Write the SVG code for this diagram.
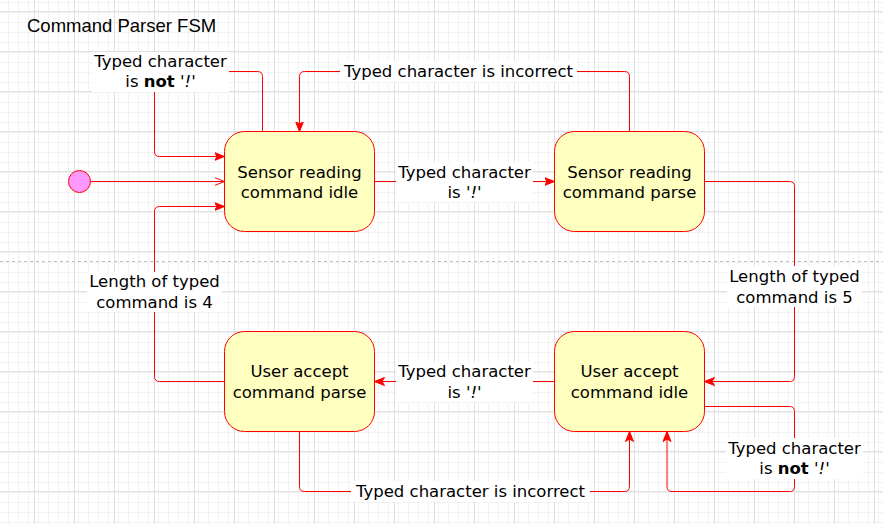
<svg xmlns="http://www.w3.org/2000/svg" width="883" height="524" viewBox="0 0 883 524">
<style>
.node rect{fill:#ffffc0;stroke:#ff0000;stroke-width:1}
.t{font-family:"DejaVu Sans",Verdana,sans-serif;font-size:16.5px;fill:#000;text-anchor:middle}
.e{fill:none;stroke:#ff0000;stroke-width:1}
.bg{fill:#ffffff}
.title{font-family:"Liberation Sans",Arial,sans-serif;font-size:18.5px;fill:#000}
</style>
<defs>
<pattern id="minor" patternUnits="userSpaceOnUse" x="4" y="1" width="10" height="10">
<path d="M0.5,0 V10 M0,0.5 H10" stroke="#f2f2f2" stroke-width="1" fill="none"/>
</pattern>
<pattern id="major" patternUnits="userSpaceOnUse" x="34" y="11" width="40" height="40">
<rect width="40" height="40" fill="url(#minor)"/>
<path d="M0.5,0 V40 M0,0.5 H40" stroke="#e0e0e0" stroke-width="1" fill="none"/>
</pattern>
<marker id="arr" markerUnits="userSpaceOnUse" viewBox="0 0 10 10" refX="10" refY="5" markerWidth="10" markerHeight="10" orient="auto">
<path d="M0,1 L10,5 L0,9 L2.5,5 z" fill="#ff0000" stroke="#ff0000" stroke-width="1"/>
</marker>
<marker id="open" markerUnits="userSpaceOnUse" viewBox="0 0 10 10" refX="10" refY="5" markerWidth="10" markerHeight="10" orient="auto">
<path d="M0,1 L10,5 L0,9" fill="none" stroke="#ff0000" stroke-width="1"/>
</marker>
</defs>
<rect width="883" height="524" fill="#ffffff"/>
<rect width="883" height="524" fill="url(#major)"/>
<line x1="0" y1="261.5" x2="883" y2="261.5" stroke="#c0c0c0" stroke-width="1" stroke-dasharray="3 3"/>
<text class="title" x="27" y="31.5">Command Parser FSM</text>

<g id="connectors">
<path class="e" d="M90.5,181.5 H224.5" marker-end="url(#open)"/>
<path class="e" d="M262.5,131.5 V76.5 Q262.5,71.5 257.5,71.5 H159.5 Q154.5,71.5 154.5,76.5 V151.5 Q154.5,156.5 159.5,156.5 H224.5" marker-end="url(#arr)"/>
<path class="e" d="M629.5,131.5 V76.5 Q629.5,71.5 624.5,71.5 H304.5 Q299.5,71.5 299.5,76.5 V131.5" marker-end="url(#arr)"/>
<path class="e" d="M374.5,181.5 H554.5" marker-end="url(#arr)"/>
<path class="e" d="M704.5,181.5 H789.5 Q794.5,181.5 794.5,186.5 V376.5 Q794.5,381.5 789.5,381.5 H704.5" marker-end="url(#arr)"/>
<path class="e" d="M554.5,381.5 H374.5" marker-end="url(#arr)"/>
<path class="e" d="M704.5,406.5 H789.5 Q794.5,406.5 794.5,411.5 V486.5 Q794.5,491.5 789.5,491.5 H672 Q667,491.5 667,486.5 V431.5" marker-end="url(#arr)"/>
<path class="e" d="M299.5,431.5 V486.5 Q299.5,491.5 304.5,491.5 H624.5 Q629.5,491.5 629.5,486.5 V431.5" marker-end="url(#arr)"/>
<path class="e" d="M224.5,381.5 H159.5 Q154.5,381.5 154.5,376.5 V211.5 Q154.5,206.5 159.5,206.5 H224.5" marker-end="url(#arr)"/>

<g id="label-not1">
<rect class="bg" x="92" y="52" width="137" height="40"/>
<text class="t" x="160.5" y="66.5">Typed character</text>
<text class="t" x="160.5" y="87">is <tspan font-weight="bold">not</tspan> <tspan font-style="italic">'!'</tspan></text>
</g>
<g id="label-incorrect1">
<rect class="bg" x="340" y="61" width="237" height="21"/>
<text class="t" x="458.5" y="77">Typed character is incorrect</text>
</g>
<g id="label-bang1">
<rect class="bg" x="396" y="162" width="137" height="40"/>
<text class="t" x="464.5" y="177.5">Typed character</text>
<text class="t" x="464.5" y="197.5">is <tspan font-style="italic">'!'</tspan></text>
</g>
<g id="label-len5">
<rect class="bg" x="727" y="266" width="135" height="41"/>
<text class="t" x="794.5" y="282">Length of typed</text>
<text class="t" x="794.5" y="302.5">command is 5</text>
</g>
<g id="label-bang2">
<rect class="bg" x="396" y="362" width="137" height="40"/>
<text class="t" x="464.5" y="377">Typed character</text>
<text class="t" x="464.5" y="397.5">is <tspan font-style="italic">'!'</tspan></text>
</g>
<g id="label-not2">
<rect class="bg" x="726" y="438" width="137" height="41"/>
<text class="t" x="794.5" y="453.5">Typed character</text>
<text class="t" x="794.5" y="474">is <tspan font-weight="bold">not</tspan> <tspan font-style="italic">'!'</tspan></text>
</g>
<g id="label-incorrect2">
<rect class="bg" x="351" y="481" width="239" height="21"/>
<text class="t" x="470.5" y="497">Typed character is incorrect</text>
</g>
<g id="label-len4">
<rect class="bg" x="87" y="272" width="135" height="40"/>
<text class="t" x="154.5" y="287">Length of typed</text>
<text class="t" x="154.5" y="307.5">command is 4</text>
</g>
</g>

<g id="initial">
<circle cx="79.5" cy="181.5" r="11" fill="#ff99ff" stroke="#ff0000" stroke-width="1"/>
</g>
<g id="sensor-idle" class="node">
<rect x="224.5" y="131.5" width="150" height="100" rx="20" ry="20"/>
<text class="t" x="299.5" y="177.5">Sensor reading</text>
<text class="t" x="299.5" y="197.5">command idle</text>
</g>
<g id="sensor-parse" class="node">
<rect x="554.5" y="131.5" width="150" height="100" rx="20" ry="20"/>
<text class="t" x="629.5" y="177.5">Sensor reading</text>
<text class="t" x="629.5" y="197.5">command parse</text>
</g>
<g id="user-parse" class="node">
<rect x="224.5" y="331.5" width="150" height="100" rx="20" ry="20"/>
<text class="t" x="299.5" y="377">User accept</text>
<text class="t" x="299.5" y="397.5">command parse</text>
</g>
<g id="user-idle" class="node">
<rect x="554.5" y="331.5" width="150" height="100" rx="20" ry="20"/>
<text class="t" x="629.5" y="377">User accept</text>
<text class="t" x="629.5" y="397.5">command idle</text>
</g>
</svg>
